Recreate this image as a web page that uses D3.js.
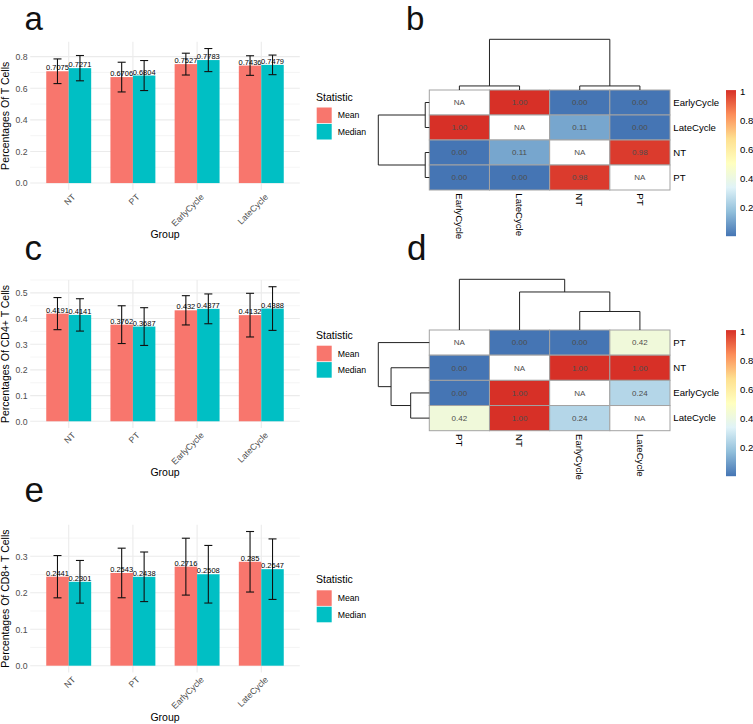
<!DOCTYPE html>
<html><head><meta charset="utf-8">
<script src="https://cdn.jsdelivr.net/npm/d3@7"></script>
<style>
body{margin:0;background:#fff}
svg{display:block;font-family:"Liberation Sans",Arial,Helvetica,sans-serif}
</style>
</head><body>
<svg id="chart" width="753" height="724"></svg>
<script>
// ---------------- data ----------------
const groups = ["NT", "PT", "EarlyCycle", "LateCycle"];
const statistics = ["Mean", "Median"];
const statColors = ["#F8766D", "#00BFC4"];

// panel a: T cells
const tMean = [0.7075, 0.6706, 0.7527, 0.7436];
const tMedian = [0.7271, 0.6804, 0.7783, 0.7479];
const tMeanErr = [0.078, 0.094, 0.069, 0.062];
const tMedianErr = [0.080, 0.095, 0.073, 0.062];
const tTicks = [0.0, 0.2, 0.4, 0.6, 0.8];

// panel c: CD4+ T cells
const cd4Mean = [0.4191, 0.3762, 0.432, 0.4132];
const cd4Median = [0.4141, 0.3687, 0.4377, 0.4388];
const cd4MeanErr = [0.0625, 0.0735, 0.057, 0.085];
const cd4MedianErr = [0.063, 0.0735, 0.058, 0.085];
const cd4Ticks = [0.0, 0.1, 0.2, 0.3, 0.4, 0.5];

// panel e: CD8+ T cells
const cd8Mean = [0.2441, 0.2543, 0.2716, 0.285];
const cd8Median = [0.2301, 0.2438, 0.2508, 0.2647];
const cd8MeanErr = [0.058, 0.068, 0.078, 0.083];
const cd8MedianErr = [0.0585, 0.068, 0.079, 0.083];
const cd8Ticks = [0.0, 0.1, 0.2, 0.3];

// panel b heatmap
const heatLabelsB = ["EarlyCycle", "LateCycle", "NT", "PT"];
const heatValuesB = [
  [null, 1.00, 0.00, 0.00],
  [1.00, null, 0.11, 0.00],
  [0.00, 0.11, null, 0.98],
  [0.00, 0.00, 0.98, null]
];
const treeB = {h: 1, c: [{h: 0.08, c: ["EarlyCycle", "LateCycle"]}, {h: 0.08, c: ["NT", "PT"]}]};

// panel d heatmap
const heatLabelsD = ["PT", "NT", "EarlyCycle", "LateCycle"];
const heatValuesD = [
  [null, 0.00, 0.00, 0.42],
  [0.00, null, 1.00, 1.00],
  [0.00, 1.00, null, 0.24],
  [0.42, 1.00, 0.24, null]
];
const treeD = {h: 1, c: ["PT", {h: 0.75, c: ["NT", {h: 0.365, c: ["EarlyCycle", "LateCycle"]}]}]};

const colorbarTicks = [0.2, 0.4, 0.6, 0.8, 1];
const heatPalette = ["#4575B4", "#91BFDB", "#E0F3F8", "#FFFFBF", "#FEE090", "#FC8D59", "#D73027"];

// ---------------- drawing ----------------
const svg = d3.select("#chart");
const FONT_TITLE = 10.5, FONT_TICK = 8.7;

function panelLetter(txt, x, y, size) {
  svg.append("text").attr("x", x).attr("y", y).attr("font-size", size).attr("fill", "#111").text(txt);
}

function drawBarPanel(cfg) {
  const g = svg.append("g");
  const left = 30.2, right = 299.8;
  const top = cfg.top, bottom = cfg.top + cfg.height;
  const x = d3.scaleLinear().domain([0.4, groups.length + 0.6]).range([left, right]);
  const rows = groups.flatMap((grp, i) => statistics.map((st, j) => ({
    i, j, grp, st,
    value: j === 0 ? cfg.mean[i] : cfg.median[i],
    err: j === 0 ? cfg.meanErr[i] : cfg.medianErr[i]
  })));
  const maxTop = d3.max(rows, d => d.value + d.err);
  const y = d3.scaleLinear().domain([-0.05 * maxTop, 1.05 * maxTop]).range([bottom, top]);
  const [d0, d1] = y.domain();
  const step = cfg.ticks[1] - cfg.ticks[0];
  const minor = [cfg.ticks[0] - step / 2, ...cfg.ticks.map(t => t + step / 2)].filter(v => v >= d0 && v <= d1 + 0.004);

  // grid
  g.selectAll("line.minor").data(minor).join("line")
    .attr("x1", left).attr("x2", right).attr("y1", d => y(d)).attr("y2", d => y(d))
    .attr("stroke", "#EFEFEF").attr("stroke-width", 0.6);
  g.selectAll("line.major").data(cfg.ticks).join("line")
    .attr("x1", left).attr("x2", right).attr("y1", d => y(d)).attr("y2", d => y(d))
    .attr("stroke", "#EBEBEB").attr("stroke-width", 1.1);
  g.selectAll("line.vmajor").data(groups).join("line")
    .attr("x1", (d, i) => x(i + 1)).attr("x2", (d, i) => x(i + 1)).attr("y1", top).attr("y2", bottom)
    .attr("stroke", "#EBEBEB").attr("stroke-width", 1.1);

  // bars
  const bw = 0.35;
  g.selectAll("rect.bar").data(rows).join("rect")
    .attr("x", d => x(d.i + 1 - bw + d.j * bw))
    .attr("width", d => x(d.i + 1 + d.j * bw) - x(d.i + 1 - bw + d.j * bw))
    .attr("y", d => y(d.value))
    .attr("height", d => y(0) - y(d.value))
    .attr("fill", d => statColors[d.j]);

  // error bars
  const cap = 0.0625;
  const eb = g.selectAll("g.eb").data(rows).join("g").attr("stroke", "#111").attr("stroke-width", 1.1).attr("fill", "none");
  eb.append("line")
    .attr("x1", d => x(d.i + 1 - bw / 2 + d.j * bw)).attr("x2", d => x(d.i + 1 - bw / 2 + d.j * bw))
    .attr("y1", d => y(d.value - d.err)).attr("y2", d => y(d.value + d.err));
  eb.append("line")
    .attr("x1", d => x(d.i + 1 - bw / 2 + d.j * bw - cap)).attr("x2", d => x(d.i + 1 - bw / 2 + d.j * bw + cap))
    .attr("y1", d => y(d.value + d.err)).attr("y2", d => y(d.value + d.err));
  eb.append("line")
    .attr("x1", d => x(d.i + 1 - bw / 2 + d.j * bw - cap)).attr("x2", d => x(d.i + 1 - bw / 2 + d.j * bw + cap))
    .attr("y1", d => y(d.value - d.err)).attr("y2", d => y(d.value - d.err));

  // value labels
  g.selectAll("text.val").data(rows).join("text")
    .attr("x", d => x(d.i + 1 - bw / 2 + d.j * bw))
    .attr("y", d => y(d.value) - 1)
    .attr("text-anchor", "middle").attr("font-size", 7.5).attr("fill", "#000")
    .text(d => String(d.value));

  // y axis
  const ya = g.append("g").attr("transform", `translate(${left},0)`)
    .call(d3.axisLeft(y).tickValues(cfg.ticks).tickSize(0).tickPadding(2.6).tickFormat(d3.format(".1f")));
  ya.select(".domain").remove();
  ya.selectAll("text").attr("font-size", FONT_TICK).attr("fill", "#4D4D4D").attr("font-family", null);

  // x axis
  const xa = g.append("g").attr("transform", `translate(0,${bottom})`)
    .call(d3.axisBottom(x).tickValues(groups.map((d, i) => i + 1)).tickSize(0).tickFormat(d => groups[d - 1]));
  xa.select(".domain").remove();
  xa.selectAll("text").attr("font-size", FONT_TICK).attr("fill", "#4D4D4D").attr("font-family", null)
    .attr("x", 0).attr("y", 0).attr("dy", "0.7em").attr("text-anchor", "end")
    .attr("transform", "translate(2.5,3.5) rotate(-45)");

  // axis titles
  g.append("text").attr("x", (left + right) / 2).attr("y", bottom + 48.3).attr("text-anchor", "middle")
    .attr("font-size", FONT_TITLE).attr("fill", "#000").text("Group");
  g.append("text").attr("transform", `translate(9.2,${(top + bottom) / 2}) rotate(-90)`).attr("text-anchor", "middle")
    .attr("font-size", FONT_TITLE).attr("fill", "#000").text(cfg.ytitle);

  // legend
  const lc = (top + bottom) / 2;
  const lg = g.append("g");
  lg.append("text").attr("x", 316).attr("y", lc - 15.2).attr("font-size", FONT_TITLE).attr("fill", "#000").text("Statistic");
  statistics.forEach((st, j) => {
    const ky = lc - 8.3 + j * 16.4;
    lg.append("rect").attr("x", 316.7).attr("y", ky).attr("width", 15).attr("height", 15.6).attr("fill", statColors[j]);
    lg.append("text").attr("x", 337.7).attr("y", ky + 7.8).attr("dy", "0.35em").attr("font-size", FONT_TICK).attr("fill", "#000").text(st);
  });
}

function drawHeat(cfg) {
  const g = svg.append("g");
  const labels = cfg.labels;
  const cellLeft = 429.3, cellRight = 670;
  const x = d3.scaleBand().domain(labels).range([cellLeft, cellRight]);
  const y = d3.scaleBand().domain(labels).range([cfg.top, cfg.top + cfg.h]);
  const color = d3.scaleLinear().domain(heatPalette.map((_, i) => i / (heatPalette.length - 1))).range(heatPalette);
  const cells = labels.flatMap((r, i) => labels.map((c, j) => ({r, c, v: cfg.values[i][j]})));

  g.selectAll("rect.cell").data(cells).join("rect")
    .attr("x", d => x(d.c)).attr("y", d => y(d.r))
    .attr("width", x.bandwidth()).attr("height", y.bandwidth())
    .attr("fill", d => d.v == null ? "#FFFFFF" : color(d.v))
    .attr("stroke", "#A3A3A3").attr("stroke-width", 1);
  g.selectAll("text.num").data(cells).join("text")
    .attr("x", d => x(d.c) + x.bandwidth() / 2).attr("y", d => y(d.r) + y.bandwidth() / 2)
    .attr("dy", "0.35em").attr("text-anchor", "middle").attr("font-size", 8).attr("fill", "#4D4D4D")
    .text(d => d.v == null ? "NA" : d3.format(".2f")(d.v));

  // row labels
  g.selectAll("text.rl").data(labels).join("text")
    .attr("x", cellRight + 3.3).attr("y", d => y(d) + y.bandwidth() / 2).attr("dy", "0.35em")
    .attr("font-size", 9.6).attr("fill", "#000").text(d => d);
  // column labels
  g.selectAll("text.cl").data(labels).join("text")
    .attr("transform", d => `translate(${x(d) + x.bandwidth() / 2},${cfg.top + cfg.h + 3.3}) rotate(90)`)
    .attr("dy", "0.35em").attr("font-size", 9.6).attr("fill", "#000").text(d => d);

  // dendrograms
  function treePaths(node, pos, out) {
    if (typeof node === "string") return {p: pos(node), h: 0};
    const kids = node.c.map(k => treePaths(k, pos, out));
    const [a, b] = kids;
    out.push([[a.p, a.h], [a.p, node.h], [b.p, node.h], [b.p, b.h]]);
    return {p: (a.p + b.p) / 2, h: node.h};
  }
  const colH = d3.scaleLinear().domain([0, 1]).range([cfg.top, cfg.top - 50.7]);
  const rowH = d3.scaleLinear().domain([0, 1]).range([cellLeft, 378.3]);
  const colSegs = [], rowSegs = [];
  treePaths(cfg.tree, l => x(l) + x.bandwidth() / 2, colSegs);
  treePaths(cfg.tree, l => y(l) + y.bandwidth() / 2, rowSegs);
  const line = d3.line();
  g.selectAll("path.ct").data(colSegs).join("path")
    .attr("d", s => line(s.map(([p, h]) => [p, colH(h)])))
    .attr("fill", "none").attr("stroke", "#222").attr("stroke-width", 1);
  g.selectAll("path.rt").data(rowSegs).join("path")
    .attr("d", s => line(s.map(([p, h]) => [rowH(h), p])))
    .attr("fill", "none").attr("stroke", "#222").attr("stroke-width", 1);

  // colour bar
  const gid = "grad" + cfg.id;
  const grad = svg.append("defs").append("linearGradient").attr("id", gid)
    .attr("x1", 0).attr("y1", 1).attr("x2", 0).attr("y2", 0);
  heatPalette.forEach((c, i) => grad.append("stop").attr("offset", i / (heatPalette.length - 1)).attr("stop-color", c));
  const cb = d3.scaleLinear().domain([0, 1]).range([cfg.cbBottom, cfg.cbBottom - 144.5]);
  g.append("rect").attr("x", 726).attr("width", 10)
    .attr("y", cb(1) - 1.6).attr("height", cb(0) - cb(1) + 1.6).attr("fill", `url(#${gid})`);
  g.selectAll("text.cb").data(colorbarTicks).join("text")
    .attr("x", 740).attr("y", d => cb(d)).attr("dy", "0.35em")
    .attr("font-size", 9.6).attr("fill", "#000").text(d => d3.format("~g")(d));
}

panelLetter("a", 24.5, 30, 33);
panelLetter("b", 406, 30, 33);
panelLetter("c", 24.5, 259.8, 35);
panelLetter("d", 407, 259.8, 35);
panelLetter("e", 24.5, 502.2, 35);

drawBarPanel({top: 41.8, height: 148, mean: tMean, median: tMedian, meanErr: tMeanErr, medianErr: tMedianErr, ticks: tTicks, ytitle: "Percentages Of T Cells"});
drawBarPanel({top: 280, height: 148, mean: cd4Mean, median: cd4Median, meanErr: cd4MeanErr, medianErr: cd4MedianErr, ticks: cd4Ticks, ytitle: "Percentages Of CD4+ T Cells"});
drawBarPanel({top: 524.8, height: 147.6, mean: cd8Mean, median: cd8Median, meanErr: cd8MeanErr, medianErr: cd8MedianErr, ticks: cd8Ticks, ytitle: "Percentages Of CD8+ T Cells"});

drawHeat({id: "b", labels: heatLabelsB, values: heatValuesB, tree: treeB, top: 90, h: 100, cbBottom: 236.2});
drawHeat({id: "d", labels: heatLabelsD, values: heatValuesD, tree: treeD, top: 330, h: 100.7, cbBottom: 476.2});
</script>
</body></html>
